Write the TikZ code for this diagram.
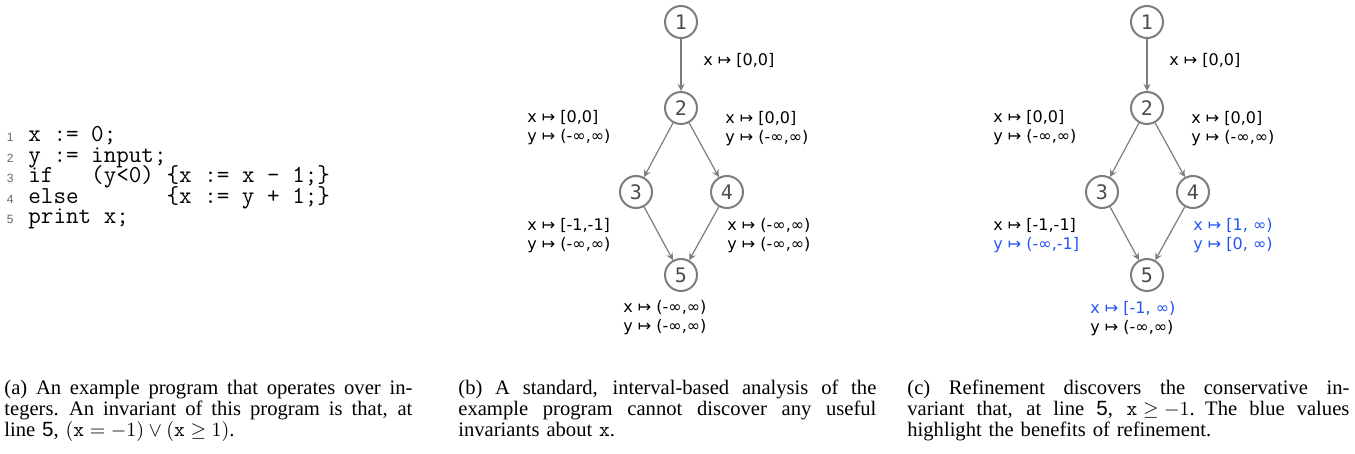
\documentclass[tikz,border=0pt]{standalone}
\usepackage{fontspec}
\setmainfont{Liberation Serif}
\newfontfamily\lblfont{DejaVu Sans}
\newfontfamily\idfont{DejaVu Sans Mono}
\newfontfamily\numfont{Liberation Sans}
\definecolor{refblue}{RGB}{38,84,240}
\definecolor{nodegray}{RGB}{125,125,125}
\newcommand{\capline}[2]{\leavevmode\hbox to #1{\spaceskip=0.25em plus 1fil\relax#2}}
\begin{document}
\begin{tikzpicture}[x=0.5pt, y=-0.5pt,
	state/.style={circle, draw=nodegray, line width=1pt, minimum size=16pt, inner sep=0pt, text=black!70, font=\idfont\fontsize{10}{10}\selectfont},
	edge/.style={->, >=stealth, draw=nodegray, line width=0.6pt},
	lbl/.style={anchor=west, align=left, inner sep=0pt, font=\lblfont\fontsize{8}{9.5}\selectfont},
	code/.style={anchor=base west, inner sep=0pt, text height=6.5pt, text depth=2pt, font=\ttfamily\fontsize{12.2}{12}\selectfont},
	lno/.style={anchor=base east, inner sep=0pt, text=black!60, font=\numfont\fontsize{6}{6}\selectfont},
	caption/.style={anchor=north west, inner sep=0pt, align=left, font=\fontsize{10.3}{10.5}\selectfont}]
	\useasboundingbox (0,0) rectangle (1355,454);
	% (a) chương trình
	\node[lno] (n1) at (14,142) {1};
	\node[lno] (n2) at (14,162.5) {2};
	\node[lno] (n3) at (14,183) {3};
	\node[lno] (n4) at (14,203.5) {4};
	\node[lno] (n5) at (14,224) {5};
	\node[code] (l1) at (28,142) {x := 0;};
	\node[code] (l2) at (28,162.5) {y := input;};
	\node[code] (l3) at (28,183) {if\ \ \ (y<0)\ \{x := x - 1;\}};
	\node[code] (l4) at (28,203.5) {else\ \ \ \ \ \ \ \{x := y + 1;\}};
	\node[code] (l5) at (28,224) {print x;};
	% (b) phân tích khoảng
	\node[state] (b1) at (681,22) {1};
	\node[state] (b2) at (681,108) {2};
	\node[state] (b3) at (636,192) {3};
	\node[state] (b4) at (727,192) {4};
	\node[state] (b5) at (681,275) {5};
	\draw[edge] (b1) -- (b2);
	\draw[edge] (b2) -- (b3);
	\draw[edge] (b2) -- (b4);
	\draw[edge] (b3) -- (b5);
	\draw[edge] (b4) -- (b5);
	\node[lbl] (b12) at (703,60) {x ↦ [0,0]};
	\node[lbl] (b2l) at (527,128) {x ↦ [0,0]\\y ↦ (-∞,∞)};
	\node[lbl] (b2r) at (725,129) {x ↦ [0,0]\\y ↦ (-∞,∞)};
	\node[lbl] (b3l) at (527,236) {x ↦ [-1,-1]\\y ↦ (-∞,∞)};
	\node[lbl] (b4r) at (727,236) {x ↦ (-∞,∞)\\y ↦ (-∞,∞)};
	\node[lbl] (b5b) at (623,318) {x ↦ (-∞,∞)\\y ↦ (-∞,∞)};
	% (c) sau khi tinh chỉnh
	\node[state] (c1) at (1147,22) {1};
	\node[state] (c2) at (1147,108) {2};
	\node[state] (c3) at (1102,192) {3};
	\node[state] (c4) at (1193,192) {4};
	\node[state] (c5) at (1147,275) {5};
	\draw[edge] (c1) -- (c2);
	\draw[edge] (c2) -- (c3);
	\draw[edge] (c2) -- (c4);
	\draw[edge] (c3) -- (c5);
	\draw[edge] (c4) -- (c5);
	\node[lbl] (c12) at (1169,60) {x ↦ [0,0]};
	\node[lbl] (c2l) at (993,128) {x ↦ [0,0]\\y ↦ (-∞,∞)};
	\node[lbl] (c2r) at (1191,129) {x ↦ [0,0]\\y ↦ (-∞,∞)};
	\node[lbl] (c3l) at (993,236) {x ↦ [-1,-1]\\\textcolor{refblue}{y ↦ (-∞,-1]}};
	\node[lbl, text=refblue] (c4r) at (1193,236) {x ↦ [1, ∞)\\y ↦ [0, ∞)};
	\node[lbl] (c5b) at (1090,319) {\textcolor{refblue}{x ↦ [-1, ∞)}\\y ↦ (-∞,∞)};
	% chú thích
	\node[caption, text width=204pt] (capa) at (4,380) {\capline{204pt}{(a) An example program that operates over in-}\\\capline{204pt}{tegers. An invariant of this program is that, at}\\line {\numfont 5}, $(\texttt{x} = -1) \vee (\texttt{x} \geq 1)$.};
	\node[caption, text width=209pt] (capb) at (458,380) {\capline{209pt}{(b) A standard, interval-based analysis of the}\\\capline{209pt}{example program cannot discover any useful}\\invariants about \texttt{x}.};
	\node[caption, text width=221pt] (capc) at (907,380) {\capline{221pt}{(c) Refinement discovers the conservative in-}\\\capline{221pt}{variant that, at line {\numfont 5}, $\texttt{x} \geq -1$. The blue values}\\highlight the benefits of refinement.};
\end{tikzpicture}
\end{document}
